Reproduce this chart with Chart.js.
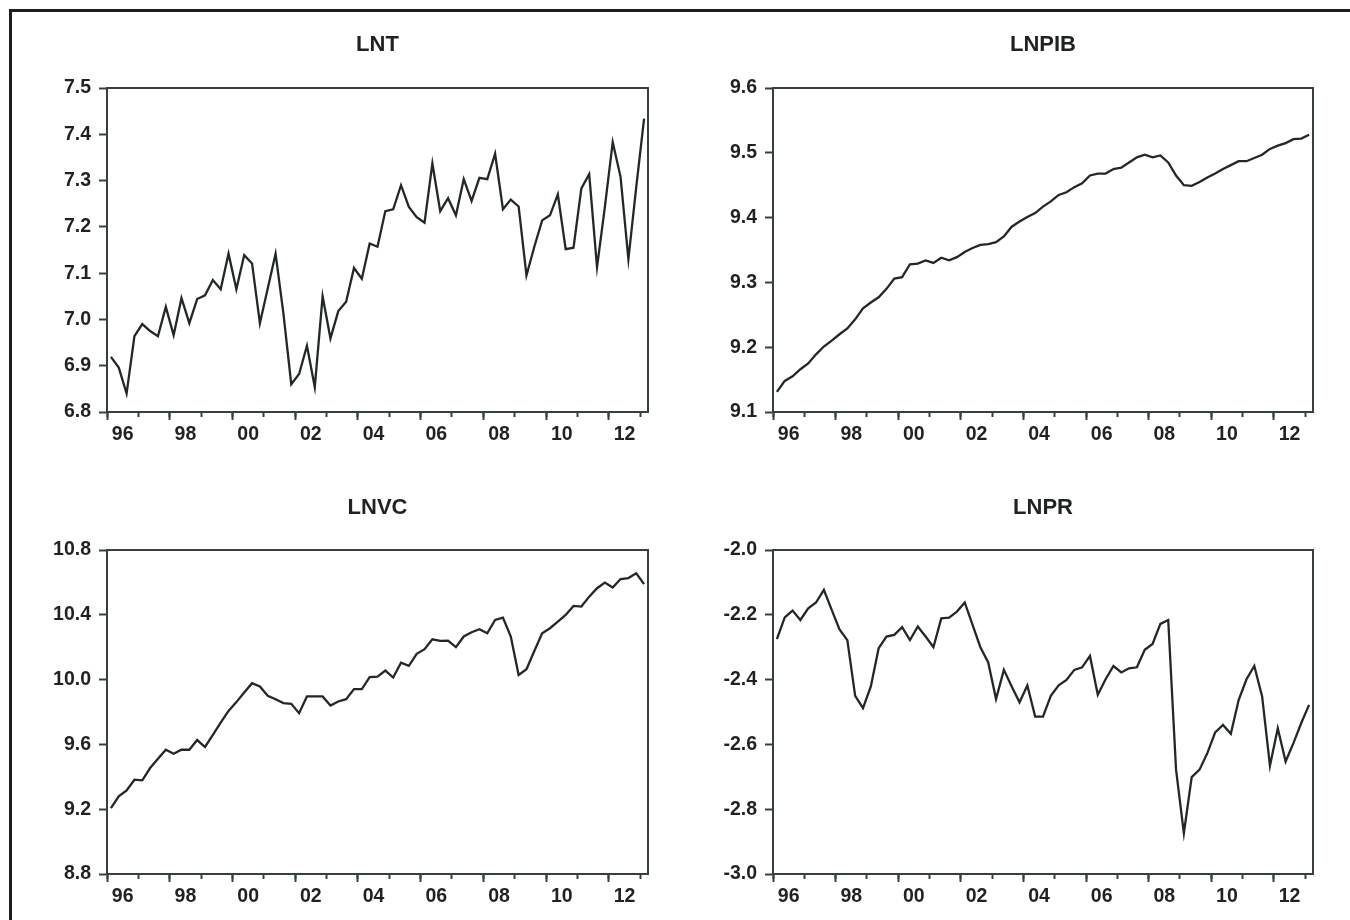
<!DOCTYPE html>
<html>
<head>
<meta charset="utf-8">
<title>LNT, LNPIB, LNVC, LNPR</title>
<script src="https://cdn.jsdelivr.net/npm/chart.js@4.4.1/dist/chart.umd.min.js"></script>
<style>
  html, body { margin: 0; padding: 0; background: #ffffff; overflow: hidden; }
  #page { position: relative; width: 1350px; height: 920px; background: #ffffff; }
  #frame { position: absolute; left: 9px; top: 9px; width: 1400px; height: 1000px;
           border: 3px solid #1e1e1e; box-sizing: border-box; }
  .panel { position: absolute; width: 675px; height: 460px; }
  .panel canvas { display: block; }
</style>
</head>
<body>
<div id="page">
  <div id="frame"></div>
  <div class="panel" style="left:0px;top:0px"><canvas id="cLNT" width="675" height="460"></canvas></div>
  <div class="panel" style="left:675px;top:0px"><canvas id="cLNPIB" width="675" height="460"></canvas></div>
  <div class="panel" style="left:0px;top:460px"><canvas id="cLNVC" width="675" height="460"></canvas></div>
  <div class="panel" style="left:675px;top:460px"><canvas id="cLNPR" width="675" height="460"></canvas></div>
</div>
<script>
// Quarterly periods, 1996Q1 .. 2013Q1
const quarters = [];
for (let y = 1996; y <= 2013; y++) {
  for (let q = 1; q <= 4; q++) {
    if (y === 2013 && q > 1) break;
    quarters.push(y + 'Q' + q);
  }
}

// Series (natural logs)
const lnt = [
  6.919, 6.896, 6.840, 6.964, 6.990, 6.975, 6.964, 7.027, 6.966, 7.046,
  6.992, 7.044, 7.052, 7.085, 7.065, 7.142, 7.065, 7.139, 7.121, 6.992,
  7.067, 7.142, 7.013, 6.860, 6.882, 6.943, 6.854, 7.050, 6.959, 7.018,
  7.038, 7.111, 7.088, 7.164, 7.157, 7.234, 7.238, 7.290, 7.243, 7.221,
  7.209, 7.337, 7.234, 7.262, 7.225, 7.303, 7.256, 7.306, 7.303, 7.358,
  7.238, 7.259, 7.244, 7.095, 7.157, 7.214, 7.225, 7.270, 7.152, 7.155,
  7.283, 7.314, 7.113, 7.243, 7.383, 7.308, 7.130, 7.286, 7.434
];
const lnpib = [
  9.131, 9.148, 9.155, 9.166, 9.175, 9.189, 9.201, 9.210, 9.220, 9.229,
  9.243, 9.260, 9.269, 9.277, 9.290, 9.306, 9.308, 9.328, 9.329, 9.334,
  9.330, 9.338, 9.334, 9.339, 9.347, 9.353, 9.358, 9.359, 9.362, 9.371,
  9.386, 9.394, 9.401, 9.407, 9.417, 9.425, 9.435, 9.439, 9.447, 9.453,
  9.465, 9.468, 9.468, 9.475, 9.477, 9.485, 9.493, 9.497, 9.493, 9.496,
  9.485, 9.465, 9.450, 9.449, 9.455, 9.462, 9.468, 9.475, 9.481, 9.487,
  9.487, 9.492, 9.497, 9.506, 9.511, 9.515, 9.521, 9.522, 9.528
];
const lnvc = [
  9.207, 9.279, 9.316, 9.382, 9.378, 9.454, 9.511, 9.567, 9.542, 9.567,
  9.567, 9.627, 9.584, 9.659, 9.735, 9.807, 9.861, 9.920, 9.978, 9.957,
  9.900, 9.879, 9.855, 9.851, 9.793, 9.896, 9.896, 9.896, 9.840, 9.865,
  9.879, 9.941, 9.941, 10.015, 10.018, 10.056, 10.013, 10.105, 10.085, 10.159,
  10.188, 10.249, 10.239, 10.241, 10.200, 10.266, 10.292, 10.311, 10.286, 10.368,
  10.383, 10.266, 10.029, 10.064, 10.177, 10.286, 10.317, 10.358, 10.399, 10.455,
  10.451, 10.512, 10.564, 10.599, 10.568, 10.621, 10.627, 10.656, 10.589
];
const lnpr = [
  -2.275, -2.208, -2.187, -2.216, -2.180, -2.162, -2.123, -2.185, -2.245, -2.278,
  -2.450, -2.488, -2.421, -2.303, -2.267, -2.262, -2.238, -2.278, -2.236, -2.267,
  -2.300, -2.211, -2.209, -2.190, -2.162, -2.231, -2.300, -2.347, -2.460, -2.370,
  -2.421, -2.470, -2.418, -2.514, -2.514, -2.450, -2.418, -2.401, -2.370, -2.362,
  -2.327, -2.447, -2.399, -2.358, -2.378, -2.365, -2.362, -2.308, -2.290, -2.228,
  -2.216, -2.678, -2.874, -2.701, -2.678, -2.627, -2.563, -2.540, -2.567, -2.463,
  -2.399, -2.358, -2.452, -2.666, -2.550, -2.653, -2.596, -2.534, -2.478
];

// Axis ticks
const yTicksLNT   = [6.8, 6.9, 7.0, 7.1, 7.2, 7.3, 7.4, 7.5];
const yTicksLNPIB = [9.1, 9.2, 9.3, 9.4, 9.5, 9.6];
const yTicksLNVC  = [8.8, 9.2, 9.6, 10.0, 10.4, 10.8];
const yTicksLNPR  = [-3.0, -2.8, -2.6, -2.4, -2.2, -2.0];
const yearTicks   = [1996, 1997, 1998, 1999, 2000, 2001, 2002, 2003, 2004,
                     2005, 2006, 2007, 2008, 2009, 2010, 2011, 2012, 2013];
const labelYears  = [1996, 1998, 2000, 2002, 2004, 2006, 2008, 2010, 2012];
const yearLabels  = ['96', '98', '00', '02', '04', '06', '08', '10', '12'];

const AXIS = '#374040';
const LINE = '#222828';
const TEXT = '#1f2222';
const FONT = "'Liberation Sans', Arial, 'DejaVu Sans', sans-serif";
const X_MIN = 1996, X_MAX = 2013.25;

// a quarter sits in the middle of its own quarter-year slot
function periodX(p) {
  const y = +p.slice(0, 4), q = +p.slice(5);
  return y + (q - 1) / 4 + 0.125;
}

function makePanel(id, title, values, yTicks, box) {
  const yMin = yTicks[0], yMax = yTicks[yTicks.length - 1];
  const points = quarters.map((p, i) => ({ x: periodX(p), y: values[i] }));
  const tickFont = { family: FONT, size: 19.5, weight: 'bold' };
  // year boundaries carry the tick marks, mid-year positions carry the labels
  const xTickValues = yearTicks.concat(labelYears.map(v => v + 0.5)).sort((a, b) => a - b);

  return new Chart(document.getElementById(id), {
    type: 'line',
    data: {
      datasets: [{
        label: title,
        data: points,
        xAxisID: 'x',
        yAxisID: 'y',
        borderColor: LINE,
        borderWidth: 2.3,
        pointRadius: 0,
        tension: 0,
        fill: false
      }]
    },
    options: {
      responsive: false,
      animation: false,
      devicePixelRatio: 1,
      events: [],
      layout: { padding: { left: 0, right: box.padRight, top: 0, bottom: 0 } },
      plugins: {
        legend: { display: false },
        tooltip: { enabled: false },
        title: {
          display: true,
          text: title,
          fullSize: false,
          color: TEXT,
          font: { family: FONT, size: 22, weight: 'bold', lineHeight: 1 },
          padding: { top: box.titleTop, bottom: box.titleBottom }
        }
      },
      scales: {
        x: {
          type: 'linear', position: 'bottom', weight: 1,
          min: X_MIN, max: X_MAX,
          afterBuildTicks: s => { s.ticks = xTickValues.map(v => ({ value: v })); },
          afterFit: s => { s.height = box.xAxisHeight; },
          grid: {
            display: true, drawOnChartArea: false, drawTicks: true,
            tickLength: 5, tickWidth: 2,
            tickColor: c => (c.tick && Number.isInteger(c.tick.value)) ? AXIS : 'rgba(0,0,0,0)'
          },
          border: { display: true, color: AXIS, width: 2 },
          ticks: {
            autoSkip: false, maxRotation: 0, minRotation: 0,
            padding: 6, color: TEXT, font: tickFont,
            callback: v => {
              if (Number.isInteger(v)) return '';
              const k = labelYears.indexOf(Math.floor(v));
              return k >= 0 ? yearLabels[k] : '';
            }
          }
        },
        xMajor: {
          type: 'linear', position: 'bottom', weight: 0,
          min: X_MIN, max: X_MAX,
          afterBuildTicks: s => { s.ticks = labelYears.map(v => ({ value: v })); },
          afterFit: s => { s.height = 0; },
          grid: { display: true, drawOnChartArea: false, drawTicks: true, tickLength: 8, tickWidth: 2, tickColor: AXIS },
          border: { display: false },
          ticks: { display: false }
        },
        xTop: {
          type: 'linear', position: 'top',
          min: X_MIN, max: X_MAX,
          afterFit: s => { s.height = 0; },
          grid: { display: false },
          border: { display: true, color: AXIS, width: 2 },
          ticks: { display: false }
        },
        y: {
          type: 'linear', position: 'left',
          min: yMin, max: yMax,
          afterBuildTicks: s => { s.ticks = yTicks.map(v => ({ value: v })); },
          afterFit: s => { s.width = box.yAxisWidth; },
          grid: { display: true, drawOnChartArea: false, drawTicks: true, tickLength: 8, tickWidth: 2, tickColor: AXIS },
          border: { display: true, color: AXIS, width: 2 },
          ticks: { padding: 8, color: TEXT, font: tickFont, callback: v => v.toFixed(1) }
        },
        yRight: {
          type: 'linear', position: 'right',
          min: yMin, max: yMax,
          afterFit: s => { s.width = 0; },
          grid: { display: false },
          border: { display: true, color: AXIS, width: 2 },
          ticks: { display: false }
        }
      }
    }
  });
}

const topBox    = { yAxisWidth: 107, padRight: 27, titleTop: 34, titleBottom: 32, xAxisHeight: 48 };
const topBoxR   = { yAxisWidth: 98,  padRight: 37, titleTop: 34, titleBottom: 32, xAxisHeight: 48 };
const lowBox    = { yAxisWidth: 107, padRight: 27, titleTop: 37, titleBottom: 31, xAxisHeight: 46 };
const lowBoxR   = { yAxisWidth: 98,  padRight: 37, titleTop: 37, titleBottom: 31, xAxisHeight: 46 };

makePanel('cLNT',   'LNT',   lnt,   yTicksLNT,   topBox);
makePanel('cLNPIB', 'LNPIB', lnpib, yTicksLNPIB, topBoxR);
makePanel('cLNVC',  'LNVC',  lnvc,  yTicksLNVC,  lowBox);
makePanel('cLNPR',  'LNPR',  lnpr,  yTicksLNPR,  lowBoxR);
</script>
</body>
</html>
